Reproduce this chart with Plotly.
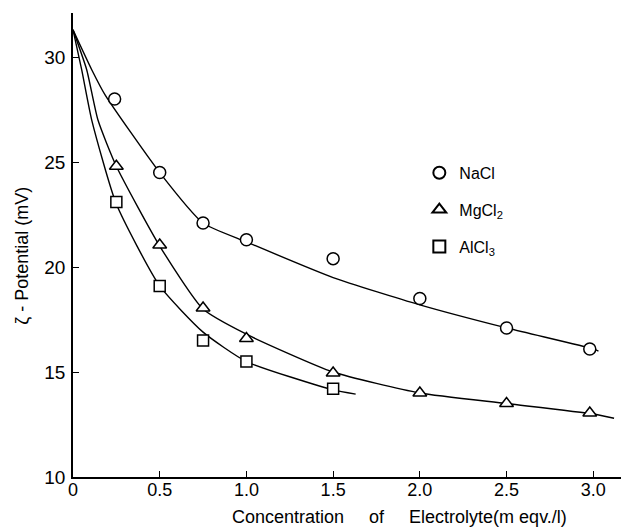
import plotly.graph_objects as go

# Measured data points
x_nacl = [0.24, 0.5, 0.75, 1.0, 1.5, 2.0, 2.5, 2.98]
y_nacl = [28.0, 24.5, 22.1, 21.3, 20.4, 18.5, 17.1, 16.1]
x_mg = [0.25, 0.5, 0.75, 1.0, 1.5, 2.0, 2.5, 2.98]
y_mg = [24.8, 21.05, 18.05, 16.6, 14.95, 14.0, 13.5, 13.05]
x_al = [0.25, 0.5, 0.75, 1.0, 1.5]
y_al = [23.1, 19.1, 16.5, 15.5, 14.2]

# Hand-drawn smooth curves
cx_nacl = [0, 0.108, 0.185, 0.5, 0.75, 1.0, 1.5, 2.0, 2.5, 3.0, 3.03]
cy_nacl = [31.3, 29.4, 28.2, 24.5, 22.1, 21.2, 19.5, 18.2, 17.1, 16.1, 16.0]
cx_mg = [0, 0.079, 0.144, 0.25, 0.5, 0.75, 1.0, 1.5, 2.0, 2.5, 3.0, 3.12]
cy_mg = [31.3, 29.4, 27.0, 24.8, 21.0, 18.0, 16.8, 15.0, 14.0, 13.5, 13.0, 12.8]
cx_al = [0, 0.05, 0.108, 0.25, 0.5, 0.75, 1.0, 1.5, 1.63]
cy_al = [31.3, 29.4, 27.0, 23.0, 19.1, 16.9, 15.5, 14.15, 13.95]

x_ticks = [0, 0.5, 1.0, 1.5, 2.0, 2.5, 3.0]
x_ticktext = ["0", "0.5", "1.0", "1.5", "2.0", "2.5", "3.0"]
y_ticks = [10, 15, 20, 25, 30]

FONT = "Liberation Sans, Arial, sans-serif"
SP = "&nbsp;" * 5

fig = go.Figure()
for cx, cy in [(cx_nacl, cy_nacl), (cx_mg, cy_mg), (cx_al, cy_al)]:
    fig.add_trace(go.Scatter(x=cx, y=cy, mode="lines",
                             line=dict(color="black", width=1.4, shape="spline", smoothing=0.55),
                             showlegend=False, hoverinfo="skip"))

for xs, ys, name, sym, size in [
    (x_nacl, y_nacl, "NaCl", "circle", 12),
    (x_mg, y_mg, "MgCl<sub>2</sub>", "triangle-up", 12),
    (x_al, y_al, "AlCl<sub>3</sub>", "square", 11),
]:
    fig.add_trace(go.Scatter(x=xs, y=ys, mode="markers", name=name, legendgroup=name,
                             marker=dict(symbol=sym, size=size, color="white",
                                         line=dict(color="black", width=1.5))))

fig.update_layout(
    width=621, height=529,
    margin=dict(l=73, r=0, t=13, b=52),
    paper_bgcolor="white", plot_bgcolor="white",
    font=dict(family=FONT, color="black", size=16),
    legend=dict(x=0.632, y=0.692, xanchor="left", yanchor="top",
                bgcolor="rgba(0,0,0,0)", font=dict(size=16),
                traceorder="grouped", tracegroupgap=13, itemsizing="constant"),
    xaxis=dict(range=[0, 3.16], tickvals=x_ticks, ticktext=x_ticktext,
               ticks="inside", ticklen=6, tickcolor="black",
               showline=True, linecolor="black", linewidth=2,
               showgrid=False, zeroline=False, tickfont=dict(size=18),
               ticklabelstandoff=-5),
    yaxis=dict(range=[10, 32.1], tickvals=y_ticks,
               ticks="inside", ticklen=6, tickcolor="black",
               showline=True, linecolor="black", linewidth=1.6,
               showgrid=False, zeroline=False, tickfont=dict(size=19),
               ticklabelstandoff=2),
    annotations=[
        dict(text="Concentration" + SP + "of" + SP + "Electrolyte(m eqv./l)",
             xref="paper", yref="paper", x=0.595, y=-0.086,
             xanchor="center", yanchor="middle", showarrow=False,
             font=dict(size=18)),
        dict(text="ζ - Potential (mV)", textangle=-90,
             xref="paper", yref="paper", x=-0.092, y=0.476,
             xanchor="center", yanchor="middle", showarrow=False,
             font=dict(size=18)),
    ],
)

fig.write_html("out.html", config={"displayModeBar": False},
               post_script="document.body.style.margin='0';")
